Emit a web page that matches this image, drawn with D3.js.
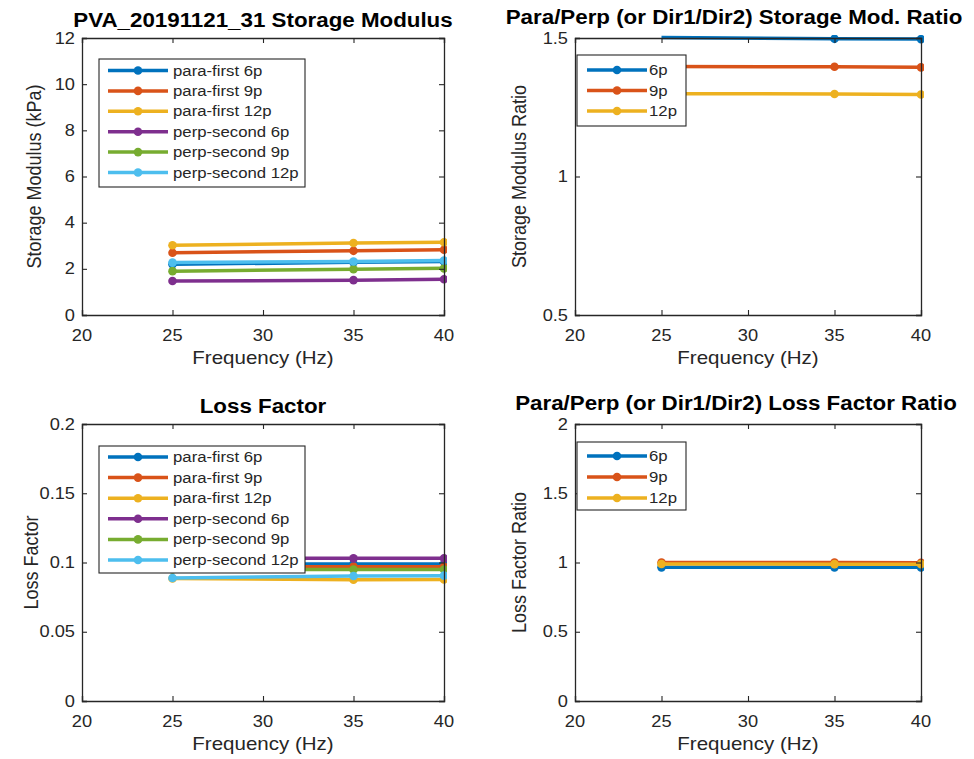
<!DOCTYPE html>
<html><head><meta charset="utf-8">
<script src="https://cdn.jsdelivr.net/npm/d3@7"></script>
<style>body{margin:0;background:#fff}svg{display:block}</style>
</head><body>
<svg id="c" width="974" height="759"></svg>
<script>
// ---------------- data ----------------
const freqs = [25, 35, 40];
const xTicks = [20, 25, 30, 35, 40];

const seriesLabels = ["para-first 6p","para-first 9p","para-first 12p","perp-second 6p","perp-second 9p","perp-second 12p"];
const ratioLabels = ["6p","9p","12p"];

const smPara6p  = [2.20, 2.28, 2.32];
const smPara9p  = [2.70, 2.78, 2.83];
const smPara12p = [3.02, 3.12, 3.15];
const smPerp6p  = [1.47, 1.51, 1.55];
const smPerp9p  = [1.90, 1.98, 2.02];
const smPerp12p = [2.27, 2.32, 2.36];

const smRatio6p  = [1.502, 1.497, 1.496];
const smRatio9p  = [1.397, 1.396, 1.394];
const smRatio12p = [1.299, 1.298, 1.296];

const lfPara6p  = [0.099, 0.099, 0.099];
const lfPara9p  = [0.097, 0.097, 0.097];
const lfPara12p = [0.0885, 0.0875, 0.0878];
const lfPerp6p  = [0.103, 0.103, 0.103];
const lfPerp9p  = [0.095, 0.095, 0.095];
const lfPerp12p = [0.0888, 0.0903, 0.0905];

const lfRatio6p  = [0.965, 0.965, 0.965];
const lfRatio9p  = [1.000, 1.000, 0.998];
const lfRatio12p = [0.989, 0.988, 0.988];

const smTicks = [0, 2, 4, 6, 8, 10, 12];
const smRatioTicks = [0.5, 1, 1.5];
const lfTicks = [0, 0.05, 0.1, 0.15, 0.2];
const lfRatioTicks = [0, 0.5, 1, 1.5, 2];

const colors = ["#0072BD","#D95319","#EDB120","#7E2F8E","#77AC30","#4DBEEE"];

// ---------------- drawing ----------------
const svg = d3.select("#c");
svg.append("rect").attr("width",974).attr("height",759).attr("fill","#fff");
const SX = 1.14;               // horizontal text stretch of the reference
const FONT = "'Liberation Sans', Arial, Helvetica, sans-serif";
const AX = "#262626";
const LW = 3.5, MR = 4.3;

function txt(g, x, y, s, o) {
  o = o || {};
  const gg = g.append("g").attr("transform",
    `translate(${x},${y}) scale(${SX},1)` + (o.rot ? " rotate(-90)" : ""));
  return gg.append("text").text(s)
    .attr("font-family", FONT)
    .attr("font-size", o.size || 16)
    .attr("font-weight", o.bold ? "bold" : "normal")
    .attr("fill", o.fill || AX)
    .attr("text-anchor", o.anchor || "middle");
}

let clipId = 0;
function panel(cfg) {
  const {left, right, top, bottom} = cfg;
  const x = d3.scaleLinear().domain([20, 40]).range([left, right]);
  const y = d3.scaleLinear().domain(cfg.yDomain).range([bottom, top]);
  const g = svg.append("g");

  const id = "clip" + (clipId++);
  svg.append("clipPath").attr("id", id).append("rect")
    .attr("x", left - 3).attr("y", top - 3)
    .attr("width", right - left + 6).attr("height", bottom - top + 6);

  // series
  const line = d3.line().x((d, i) => x(freqs[i])).y(d => y(d));
  const dg = g.append("g").attr("clip-path", `url(#${id})`);
  cfg.series.forEach((vals, k) => {
    dg.append("path").attr("d", line(vals)).attr("fill", "none")
      .attr("stroke", colors[k]).attr("stroke-width", LW);
    vals.forEach((v, i) => {
      if (v < cfg.yDomain[0] || v > cfg.yDomain[1]) return;
      dg.append("circle").attr("cx", x(freqs[i])).attr("cy", y(v))
        .attr("r", MR).attr("fill", colors[k]);
    });
  });

  // axes (box with ticks on all sides)
  const axB = d3.axisBottom(x).tickValues(xTicks).tickSize(-5).tickFormat("");
  const axT = d3.axisTop(x).tickValues(xTicks).tickSize(-5).tickFormat("");
  const axL = d3.axisLeft(y).tickValues(cfg.yTicks).tickSize(-5).tickFormat("");
  const axR = d3.axisRight(y).tickValues(cfg.yTicks).tickSize(-5).tickFormat("");
  [[axB, `translate(0,${bottom})`], [axT, `translate(0,${top})`],
   [axL, `translate(${left},0)`], [axR, `translate(${right},0)`]].forEach(([a, t]) => {
    const ag = g.append("g").attr("transform", t).call(a);
    ag.selectAll("path").attr("stroke", AX).attr("stroke-width", 1.3);
    ag.selectAll("line").attr("stroke", AX).attr("stroke-width", 1.1);
  });

  // tick labels
  xTicks.forEach(t => txt(g, x(t), bottom + 26, String(t), {size: 16}));
  cfg.yTicks.forEach(t => txt(g, left - 7, y(t) + 5.5, cfg.fmt(t), {size: 16, anchor: "end"}));

  // labels
  txt(g, (left + right) / 2, bottom + 49, "Frequency (Hz)", {size: 18});
  txt(g, cfg.ylabelX, (top + bottom) / 2, cfg.ylabel, {size: 18, rot: true});
  txt(g, cfg.titleX, top - cfg.titleGap, cfg.title, {size: 19.6, bold: true, fill: "#000"});

  // legend
  const L = cfg.legend;
  const lg = g.append("g");
  lg.append("rect").attr("x", L.x).attr("y", L.y).attr("width", L.w).attr("height", L.h)
    .attr("fill", "#fff").attr("stroke", AX).attr("stroke-width", 1.1);
  L.labels.forEach((s, k) => {
    const ry = L.y + L.first + k * L.step;
    lg.append("line").attr("x1", L.x + L.lx1).attr("x2", L.x + L.lx2)
      .attr("y1", ry).attr("y2", ry).attr("stroke", colors[k]).attr("stroke-width", LW);
    lg.append("circle").attr("cx", L.x + (L.lx1 + L.lx2) / 2).attr("cy", ry)
      .attr("r", MR).attr("fill", colors[k]);
    txt(lg, L.x + L.tx, ry + 5, s, {size: 14.7, anchor: "start"});
  });
}

const fmtPlain = d => String(d);

panel({left: 82, right: 444, top: 38, bottom: 315, yDomain: [0, 12], yTicks: smTicks, fmt: fmtPlain,
  series: [smPara6p, smPara9p, smPara12p, smPerp6p, smPerp9p, smPerp12p],
  title: "PVA_20191121_31 Storage Modulus", titleX: 263, titleGap: 11,
  ylabel: "Storage Modulus (kPa)", ylabelX: 41,
  legend: {x: 99, y: 59, w: 206, h: 128, first: 11.5, step: 20.4, lx1: 9, lx2: 69, tx: 74, labels: seriesLabels}});

panel({left: 575, right: 921, top: 38, bottom: 315, yDomain: [0.5, 1.5], yTicks: smRatioTicks, fmt: fmtPlain,
  series: [smRatio6p, smRatio9p, smRatio12p],
  title: "Para/Perp (or Dir1/Dir2) Storage Mod. Ratio", titleX: 734, titleGap: 14,
  ylabel: "Storage Modulus Ratio", ylabelX: 526,
  legend: {x: 577, y: 55, w: 109, h: 71, first: 15, step: 20.5, lx1: 10, lx2: 70, tx: 72, labels: ratioLabels}});

panel({left: 82, right: 444, top: 424, bottom: 701, yDomain: [0, 0.2], yTicks: lfTicks, fmt: fmtPlain,
  series: [lfPara6p, lfPara9p, lfPara12p, lfPerp6p, lfPerp9p, lfPerp12p],
  title: "Loss Factor", titleX: 263, titleGap: 11,
  ylabel: "Loss Factor", ylabelX: 38,
  legend: {x: 99, y: 446, w: 206, h: 127, first: 11, step: 20.6, lx1: 9, lx2: 69, tx: 74, labels: seriesLabels}});

panel({left: 575, right: 921, top: 424, bottom: 701, yDomain: [0, 2], yTicks: lfRatioTicks, fmt: fmtPlain,
  series: [lfRatio6p, lfRatio9p, lfRatio12p],
  title: "Para/Perp (or Dir1/Dir2) Loss Factor Ratio", titleX: 736, titleGap: 14,
  ylabel: "Loss Factor Ratio", ylabelX: 526,
  legend: {x: 577, y: 442, w: 109, h: 68, first: 14, step: 21, lx1: 10, lx2: 70, tx: 72, labels: ratioLabels}});
</script>
</body></html>
